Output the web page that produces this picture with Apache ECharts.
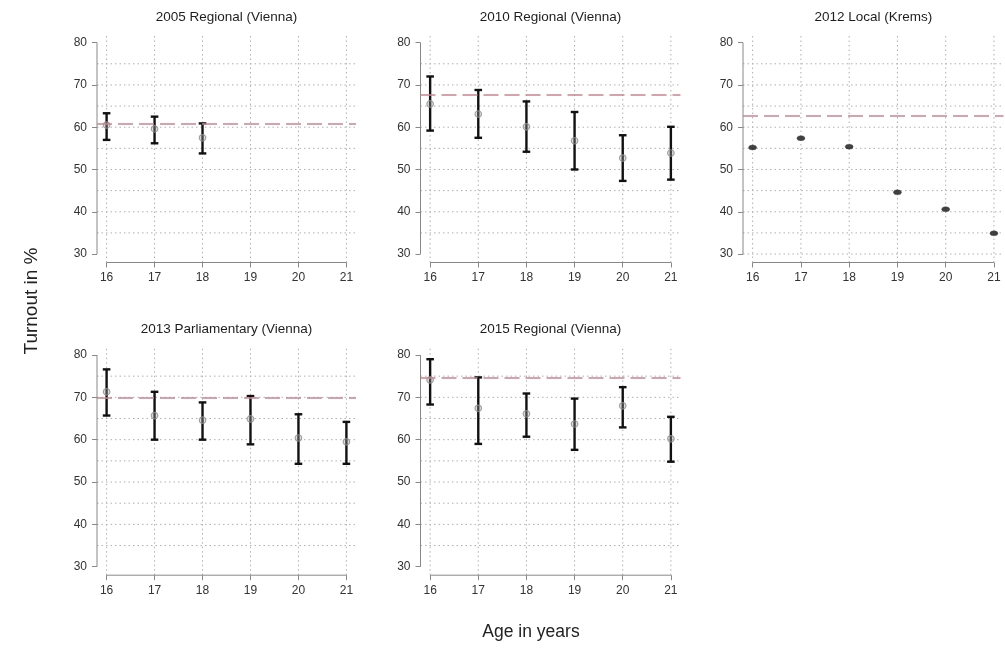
<!DOCTYPE html>
<html>
<head>
<meta charset="utf-8">
<script src="https://cdn.jsdelivr.net/npm/echarts@6/dist/echarts.min.js"></script>
<style>html,body{margin:0;padding:0;background:#fff;}#c{width:1005px;height:650px;}</style>
</head>
<body>
<div id="c"></div>
<script>
// ---- data ----
const ages = [16, 17, 18, 19, 20, 21];
const xTicks = [16, 17, 18, 19, 20, 21];
const yTicks = [30, 40, 50, 60, 70, 80];
const yGrid = [35, 40, 45, 50, 55, 60, 65, 70, 75];
const yGridKrems = [30, 35, 40, 45, 50, 55, 60, 65, 70, 75];
const titles = ["2005 Regional (Vienna)", "2010 Regional (Vienna)", "2012 Local (Krems)", "2013 Parliamentary (Vienna)", "2015 Regional (Vienna)"];

const mean2005 = [60.5, 59.6, 57.5];
const lower2005 = [57.0, 56.2, 53.8];
const upper2005 = [63.3, 62.5, 60.9];
const ref2005 = 60.8;

const mean2010 = [65.5, 63.1, 60.1, 56.8, 52.7, 53.9];
const lower2010 = [59.2, 57.5, 54.2, 50.0, 47.3, 47.6];
const upper2010 = [72.0, 68.8, 66.1, 63.6, 58.1, 60.1];
const ref2010 = 67.6;

const mean2012 = [55.2, 57.4, 55.4, 44.6, 40.6, 34.9];
const ref2012 = 62.8;

const mean2013 = [71.3, 65.7, 64.6, 64.9, 60.4, 59.5];
const lower2013 = [65.7, 60.0, 60.0, 58.9, 54.3, 54.3];
const upper2013 = [76.6, 71.3, 68.8, 70.3, 66.0, 64.2];
const ref2013 = 69.9;

const mean2015 = [74.1, 67.4, 66.1, 63.7, 68.0, 60.2];
const lower2015 = [68.3, 59.0, 60.7, 57.6, 62.9, 54.8];
const upper2015 = [79.0, 74.7, 70.9, 69.7, 72.4, 65.4];
const ref2015 = 74.7;

// axis ranges (R-style 4% padding)
const X_MIN = 15.8, X_MAX = 21.2, Y_MIN = 28, Y_MAX = 82;

const FONT = "'Liberation Sans', Arial, sans-serif";

const panels = [
  { mean: mean2005, lower: lower2005, upper: upper2005, ref: ref2005, grid: yGrid, box: { left: 97, top: 34.2, width: 259, height: 228.3 } },
  { mean: mean2010, lower: lower2010, upper: upper2010, ref: ref2010, grid: yGrid, box: { left: 420.5, top: 34.2, width: 260, height: 228.3 } },
  { mean: mean2012, lower: null, upper: null, ref: ref2012, grid: yGridKrems, box: { left: 743, top: 34.2, width: 260.6, height: 228.3 } },
  { mean: mean2013, lower: lower2013, upper: upper2013, ref: ref2013, grid: yGrid, box: { left: 97, top: 346.5, width: 259, height: 228.7 } },
  { mean: mean2015, lower: lower2015, upper: upper2015, ref: ref2015, grid: yGrid, box: { left: 420.5, top: 346.5, width: 260, height: 228.7 } }
];

const grids = [], xAxes = [], yAxes = [], series = [], titleList = [];

panels.forEach((p, i) => {
  grids.push(Object.assign({ containLabel: false }, p.box));
  titleList.push({
    text: titles[i],
    left: p.box.left + p.box.width / 2,
    top: p.box.top - 24,
    textAlign: 'center',
    padding: 0,
    textStyle: { fontFamily: FONT, fontSize: 13.5, fontWeight: 'normal', color: '#1e1e1e' }
  });
  xAxes.push({
    type: 'value', gridIndex: i, min: X_MIN, max: X_MAX,
    axisLine: { show: false },
    splitLine: { show: false },
    axisTick: { show: true, customValues: xTicks, length: 5, lineStyle: { color: '#888', width: 1 } },
    axisLabel: { show: true, customValues: xTicks, margin: 9, fontFamily: FONT, fontSize: 12, color: '#333' }
  });
  yAxes.push({
    type: 'value', gridIndex: i, min: Y_MIN, max: Y_MAX,
    axisLine: { show: false },
    splitLine: { show: false },
    axisTick: { show: true, customValues: yTicks, length: 5, lineStyle: { color: '#888', width: 1 } },
    axisLabel: { show: true, customValues: yTicks, margin: 10, fontFamily: FONT, fontSize: 12, color: '#333' }
  });

  const hGrid = p.grid;
  // frame: dotted grid, R-style axis lines, reference dashed line
  series.push({
    type: 'custom', xAxisIndex: i, yAxisIndex: i, z: 1, silent: true,
    data: [[ages[0], yTicks[0]]],
    renderItem: function (params, api) {
      const ch = [];
      const dot = { stroke: '#b0b0b0', lineWidth: 1, lineDash: [1.5, 3] };
      hGrid.forEach(v => {
        const a = api.coord([X_MIN, v]), b = api.coord([X_MAX, v]);
        ch.push({ type: 'line', shape: { x1: a[0], y1: a[1], x2: b[0], y2: b[1] }, style: dot });
      });
      xTicks.forEach(v => {
        const a = api.coord([v, Y_MIN]), b = api.coord([v, Y_MAX]);
        ch.push({ type: 'line', shape: { x1: a[0], y1: a[1], x2: b[0], y2: b[1] }, style: dot });
      });
      const ax = { stroke: '#888', lineWidth: 1 };
      const y0 = api.coord([X_MIN, yTicks[0]]), y1 = api.coord([X_MIN, yTicks[yTicks.length - 1]]);
      ch.push({ type: 'line', shape: { x1: y0[0], y1: y0[1], x2: y1[0], y2: y1[1] }, style: ax });
      const x0 = api.coord([xTicks[0], Y_MIN]), x1 = api.coord([xTicks[xTicks.length - 1], Y_MIN]);
      ch.push({ type: 'line', shape: { x1: x0[0], y1: x0[1], x2: x1[0], y2: x1[1] }, style: ax });
      return { type: 'group', children: ch };
    },
    markLine: {
      silent: true, symbol: 'none', label: { show: false }, animation: false,
      lineStyle: { color: '#c98491', type: [15, 6], width: 1.5 },
      data: [{ yAxis: p.ref }]
    }
  });

  if (p.lower) {
    const rows = p.mean.map((m, k) => [ages[k], p.lower[k], p.upper[k]]);
    series.push({
      type: 'custom', xAxisIndex: i, yAxisIndex: i, z: 3, silent: true,
      data: rows,
      renderItem: function (params, api) {
        const x = api.value(0);
        const lo = api.coord([x, api.value(1)]);
        const hi = api.coord([x, api.value(2)]);
        const hw = 3.8;
        const st = { stroke: '#111', lineWidth: 2.4 };
        return {
          type: 'group', children: [
            { type: 'line', shape: { x1: lo[0], y1: lo[1], x2: hi[0], y2: hi[1] }, style: st },
            { type: 'line', shape: { x1: lo[0] - hw, y1: lo[1], x2: lo[0] + hw, y2: lo[1] }, style: st },
            { type: 'line', shape: { x1: hi[0] - hw, y1: hi[1], x2: hi[0] + hw, y2: hi[1] }, style: st }
          ]
        };
      }
    });
    series.push({
      type: 'scatter', xAxisIndex: i, yAxisIndex: i, z: 4, silent: true,
      symbol: 'circle', symbolSize: 6.5,
      itemStyle: { color: 'rgba(160,160,160,0.45)', borderColor: '#8e8e8e', borderWidth: 1.2 },
      data: p.mean.map((m, k) => [ages[k], m])
    });
  } else {
    series.push({
      type: 'scatter', xAxisIndex: i, yAxisIndex: i, z: 4, silent: true,
      symbol: 'circle', symbolSize: [8, 5],
      itemStyle: { color: '#111', borderColor: '#444', borderWidth: 0.5 },
      data: p.mean.map((m, k) => [ages[k], m])
    });
  }
});

const chart = echarts.init(document.getElementById('c'), null, { renderer: 'canvas' });
chart.setOption({
  animation: false,
  backgroundColor: '#fff',
  title: titleList,
  grid: grids,
  xAxis: xAxes,
  yAxis: yAxes,
  series: series,
  graphic: [
    { type: 'text', x: 31.5, y: 301, rotation: Math.PI / 2,
      style: { text: 'Turnout in %', fontFamily: FONT, fontSize: 19, fill: '#222', align: 'center', verticalAlign: 'middle' } },
    { type: 'text', x: 531, y: 632,
      style: { text: 'Age in years', fontFamily: FONT, fontSize: 17.5, fill: '#222', align: 'center', verticalAlign: 'middle' } }
  ]
});
</script>
</body>
</html>
